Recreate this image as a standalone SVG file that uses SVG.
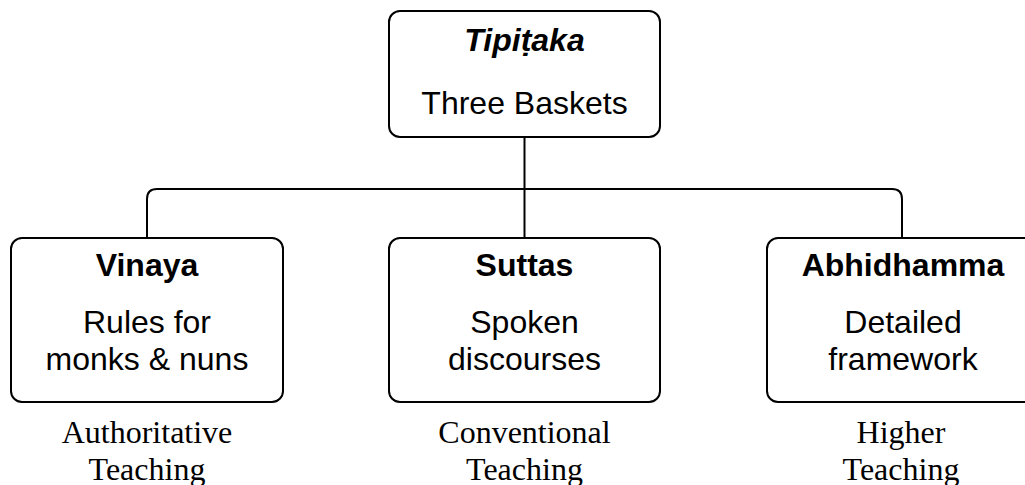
<svg xmlns="http://www.w3.org/2000/svg" width="1025" height="485" viewBox="0 0 1025 485">
<style>
.box{fill:#fff;stroke:#000;stroke-width:2}
.conn{fill:none;stroke:#000;stroke-width:2}
.t{font-family:"Liberation Sans",Arial,sans-serif;font-size:32px;text-anchor:middle;fill:#000}
.b{font-weight:bold}
.bi{font-weight:bold;font-style:italic}
.cap{font-family:"Liberation Serif","Times New Roman",serif;font-size:32px;text-anchor:middle;fill:#000}
</style>
<rect width="1025" height="485" fill="#fff"/>
<g id="connectors">
<path class="conn" d="M524.5 137 V238"/>
<path class="conn" d="M147 238 V199 Q147 189 157 189 H892 Q902 189 902 199 V238"/>
</g>
<g id="tipitaka">
<rect class="box" x="389" y="11" width="271" height="126" rx="11"/>
<text class="t bi" x="524.5" y="51">Tipiṭaka</text>
<text class="t" x="524.5" y="114">Three Baskets</text>
</g>
<g id="vinaya">
<rect class="box" x="11" y="238" width="272" height="164" rx="11"/>
<text class="t b" x="147" y="276">Vinaya</text>
<text class="t" x="147" y="333">Rules for</text>
<text class="t" x="147" y="370">monks &amp; nuns</text>
</g>
<g id="suttas">
<rect class="box" x="389" y="238" width="271" height="164" rx="11"/>
<text class="t b" x="524.5" y="276">Suttas</text>
<text class="t" x="524.5" y="333">Spoken</text>
<text class="t" x="524.5" y="370">discourses</text>
</g>
<g id="abhidhamma">
<rect class="box" x="767" y="238" width="272" height="164" rx="11"/>
<text class="t b" x="903" y="276">Abhidhamma</text>
<text class="t" x="903" y="333">Detailed</text>
<text class="t" x="903" y="370">framework</text>
</g>
<g id="labels">
<text class="cap" x="147" y="443">Authoritative</text>
<text class="cap" x="147" y="480">Teaching</text>
<text class="cap" x="524.5" y="443">Conventional</text>
<text class="cap" x="524.5" y="480">Teaching</text>
<text class="cap" x="901" y="443">Higher</text>
<text class="cap" x="901" y="480">Teaching</text>
</g>
</svg>
